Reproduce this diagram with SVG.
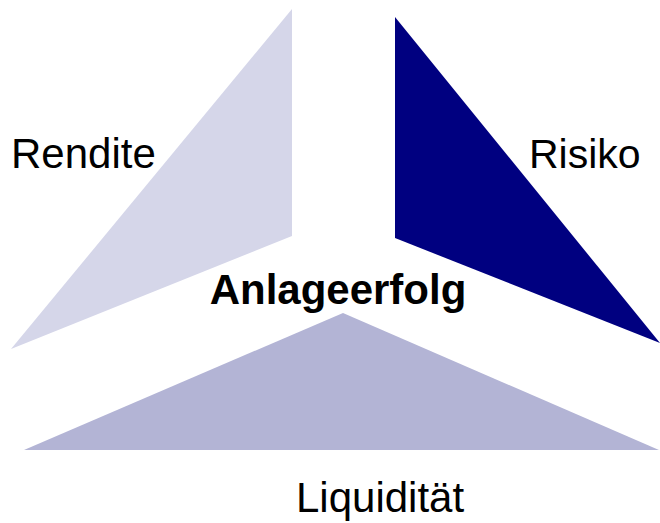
<svg xmlns="http://www.w3.org/2000/svg" width="660" height="523" viewBox="0 0 660 523">
<style>
.lbl{font-family:"Liberation Sans",Arial,sans-serif;font-size:42px;fill:#000}
.b{font-weight:bold}
</style>
<rect width="660" height="523" fill="#fff"/>
<g id="rendite">
<polygon points="292,9 292,236 11,349" fill="#D5D6E9"/>
<text class="lbl" x="11" y="168">Rendite</text>
</g>
<g id="risiko">
<polygon points="395,17 395,238 660,343" fill="#000080"/>
<text class="lbl" x="529" y="168" style="font-size:41px">Risiko</text>
</g>
<g id="liquiditaet">
<polygon points="343,313 24,450 659,450" fill="#B3B4D5"/>
<text class="lbl" x="296" y="512">Liquidität</text>
</g>
<g id="anlageerfolg">
<text class="lbl b" x="338" y="304" text-anchor="middle">Anlageerfolg</text>
</g>
<g id="connectors"/>
</svg>
